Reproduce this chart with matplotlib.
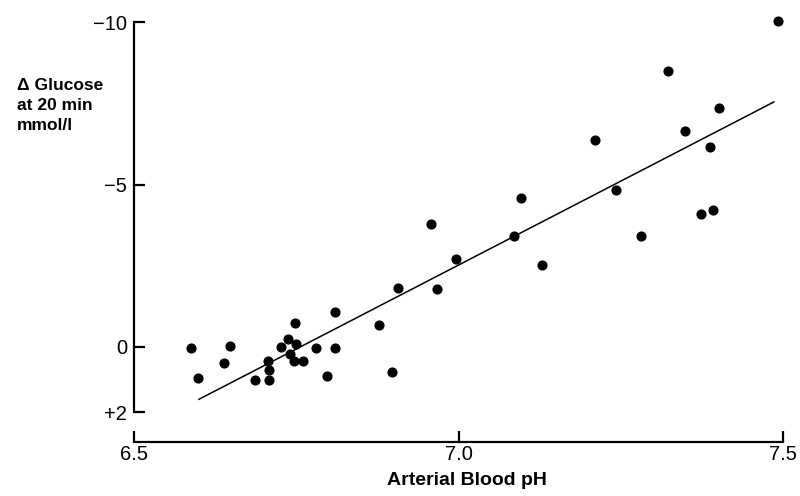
import matplotlib
matplotlib.use("Agg")
import matplotlib.pyplot as plt

ph = [6.588, 6.599, 6.648, 6.638, 6.687, 6.708, 6.708, 6.707, 6.727, 6.737,
      6.748, 6.750, 6.741, 6.747, 6.760, 6.781, 6.798, 6.809, 6.810, 6.877,
      6.898, 6.907, 6.957, 6.967, 6.996, 7.085, 7.096, 7.128,
      7.211, 7.243, 7.281, 7.323, 7.349, 7.373, 7.392, 7.387, 7.402, 7.492]
dglucose = [0.02, 0.94, -0.03, 0.50, 1.02, 1.02, 0.72, 0.43, 0.00, -0.26,
            -0.74, -0.08, 0.22, 0.43, 0.43, 0.04, 0.88, 0.02, -1.08, -0.69,
            0.76, -1.83, -3.78, -1.78, -2.71, -3.41, -4.59, -2.52,
            -6.38, -4.82, -3.41, -8.50, -6.66, -4.10, -4.22, -6.16, -7.36, -10.03]
fit_x = [6.600, 7.486]
fit_y = [1.61, -7.54]

x_ticks = [6.5, 7.0, 7.5]
x_ticklabels = ["6.5", "7.0", "7.5"]
y_ticks = [-10, -5, 0, 2]
y_ticklabels = ["\u221210", "\u22125", "0", "+2"]

plt.rcParams['font.family'] = ['Liberation Sans', 'DejaVu Sans']

fig = plt.figure(figsize=(8, 4.96), dpi=100)
ax = fig.add_axes([134/800, 1 - 412/496, (783 - 134)/800, (412 - 22)/496])

ax.plot(fit_x, fit_y, color='black', lw=1.1)
ax.plot(ph, dglucose, 'o', color='black', markersize=6.3, clip_on=False)

ax.set_xlim(6.5, 7.5)
ax.set_ylim(2, -10)

ax.spines['top'].set_visible(False)
ax.spines['right'].set_visible(False)
ax.spines['bottom'].set_position(('outward', 30 * 0.72))
ax.spines['left'].set_linewidth(1.6)
ax.spines['bottom'].set_linewidth(1.6)

ax.set_xticks(x_ticks)
ax.set_xticklabels(x_ticklabels)
ax.set_yticks(y_ticks)
ax.set_yticklabels(y_ticklabels)
ax.tick_params(direction='in', length=8, width=1.6, labelsize=14.5, pad=2)
ax.tick_params(axis='y', pad=5)

ax.set_xlabel("Arterial Blood pH", fontsize=14, fontweight='bold', va='top')
ax.xaxis.set_label_coords(0.513, -0.153)
fig.text(17/800, 1 - 78/496, "\u0394 Glucose\nat 20 min\nmmol/l", fontsize=12.5,
         fontweight='bold', ha='left', va='top', linespacing=1.42)

fig.savefig("out.png", dpi=100)
